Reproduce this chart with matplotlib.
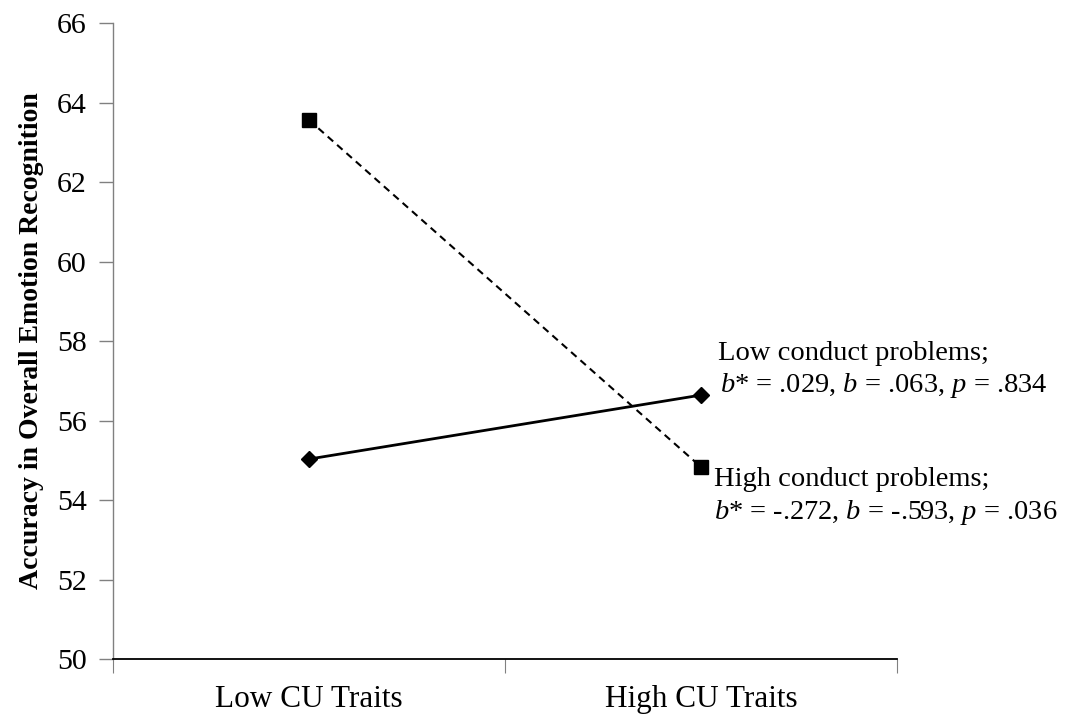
import matplotlib
matplotlib.use('Agg')
import matplotlib.pyplot as plt

plt.rcParams['font.family'] = ['Liberation Serif', 'DejaVu Serif']
plt.rcParams['mathtext.fontset'] = 'custom'
plt.rcParams['mathtext.rm'] = 'Liberation Serif'
plt.rcParams['mathtext.it'] = 'Liberation Serif:italic'

# data
categories = ['Low CU Traits', 'High CU Traits']
low_cp = [55.03, 56.64]
high_cp = [63.56, 54.83]
low_cp_label = ['Low conduct problems;', '$b$* = .029, $b$ = .063, $p$ = .834']
high_cp_label = ['High conduct problems;', '$b$* = -.272, $b$ = -.593, $p$ = .036']
yticks = [50, 52, 54, 56, 58, 60, 62, 64, 66]

fig = plt.figure(figsize=(10.73, 7.15), dpi=100)
ax = fig.add_axes([0.1053, 0.0783, 0.7307, 0.8895])

xpos = [0.5, 1.5]
ax.plot(xpos, low_cp, color='black', lw=2.0, marker='D', markersize=8.5, clip_on=False)
ax.plot(xpos, high_cp, color='black', lw=1.5, ls=(0, (3.5, 2.5)), marker='s', markersize=10, clip_on=False)

ax.set_xlim(0, 2)
ax.set_ylim(50, 66)
ax.set_yticks(yticks)
ax.set_xticks([0, 1, 2])
ax.set_xticklabels([])
ax.set_xticks(xpos, minor=True)
ax.set_xticklabels(categories, minor=True)
ax.tick_params(axis='x', which='minor', length=0, pad=19, labelsize=22.5)
ax.tick_params(axis='x', which='major', direction='out', length=10, color='#808080', width=0.8)
ax.tick_params(axis='y', direction='out', length=10, color='#808080', width=1.0, labelsize=21.5, pad=9)

for s in ['top', 'right']:
    ax.spines[s].set_visible(False)
ax.spines['left'].set_color('#808080')
ax.spines['left'].set_linewidth(1.0)
ax.spines['bottom'].set_color('black')
ax.spines['bottom'].set_linewidth(1.3)

ax.set_ylabel('Accuracy in Overall Emotion Recognition', fontsize=20, fontweight='bold', labelpad=9)

ax.annotate(low_cp_label[0], xy=(1.5, low_cp[1]), xytext=(12, 30), textcoords='offset points',
            fontsize=20.5, va='center', ha='left', annotation_clip=False)
ax.annotate(low_cp_label[1], xy=(1.5, low_cp[1]), xytext=(14, 7), textcoords='offset points',
            fontsize=20.5, va='center', ha='left', annotation_clip=False)
ax.annotate(high_cp_label[0], xy=(1.5, high_cp[1]), xytext=(9, -9), textcoords='offset points',
            fontsize=20.5, va='center', ha='left', annotation_clip=False)
ax.annotate(high_cp_label[1], xy=(1.5, high_cp[1]), xytext=(9, -33), textcoords='offset points',
            fontsize=20.5, va='center', ha='left', annotation_clip=False)

fig.savefig('out.png', dpi=100)
